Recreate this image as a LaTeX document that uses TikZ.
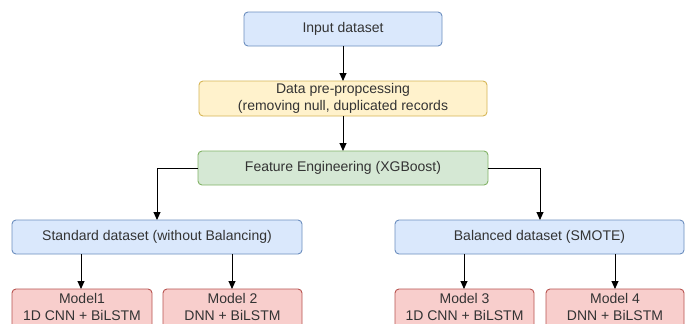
\documentclass[tikz,border=0pt]{standalone}
\usepackage{fontspec}
\setmainfont{Liberation Sans}
\usetikzlibrary{arrows.meta}
\definecolor{bfill}{HTML}{DAE8FC}\definecolor{bdraw}{HTML}{6C8EBF}
\definecolor{yfill}{HTML}{FFF2CC}\definecolor{ydraw}{HTML}{D6B656}
\definecolor{gfill}{HTML}{D5E8D4}\definecolor{gdraw}{HTML}{82B366}
\definecolor{rfill}{HTML}{F8CECC}\definecolor{rdraw}{HTML}{B85450}
\definecolor{txt}{HTML}{333333}
\begin{document}
\begin{tikzpicture}[x=1pt,y=-1pt,
  box/.style={rectangle, rounded corners=4pt, line width=0.9pt, inner sep=0pt, outer sep=0pt, align=center, font=\fontsize{14}{17.5}\selectfont, text=txt},
  bluebox/.style={box, fill=bfill, draw=bdraw},
  yellowbox/.style={box, fill=yfill, draw=ydraw},
  greenbox/.style={box, fill=gfill, draw=gdraw},
  redbox/.style={box, fill=rfill, draw=rdraw},
  arr/.style={-{Triangle[length=8pt,width=7pt]}, line width=0.9pt, black}]
\clip (0,0) rectangle (691,324);
\fill[white] (0,0) rectangle (691,324);
% boxes
\node[bluebox, minimum width=198pt, minimum height=34pt] (in) at (343,29) {Input dataset};
\node[yellowbox, minimum width=288pt, minimum height=35pt] (pre) at (343,98.5) {Data pre-propcessing\\(removing null, duplicated records};
\node[greenbox, minimum width=290pt, minimum height=34pt] (fe) at (343,168) {Feature Engineering (XGBoost)};
\node[bluebox, minimum width=290pt, minimum height=34pt] (sd) at (157,237) {Standard dataset (without Balancing)};
\node[bluebox, minimum width=289pt, minimum height=34pt] (bd) at (539.5,237) {Balanced dataset (SMOTE)};
% model boxes (cut by the lower edge)
\draw[redbox] (12,289) rectangle (152,340);
\draw[redbox] (163,289) rectangle (302,340);
\draw[redbox] (395,289) rectangle (534,340);
\draw[redbox] (546,289) rectangle (684,340);
\node[box] (m1) at (82,307) {Model1\\1D CNN + BiLSTM};
\node[box] (m2) at (232.5,307) {Model 2\\DNN + BiLSTM};
\node[box] (m3) at (464.5,307) {Model 3\\1D CNN + BiLSTM};
\node[box] (m4) at (615,307) {Model 4\\DNN + BiLSTM};
\coordinate (m1t) at (81,289);\coordinate (m2t) at (232,289);
\coordinate (m3t) at (464,289);\coordinate (m4t) at (615,289);
% connectors
\draw[arr] (in) -- (pre);
\draw[arr] (pre) -- (fe);
\draw[arr] (fe.west) -| (sd);
\draw[arr] (fe.east) -| ([xshift=0.5pt]bd.north);
\draw[arr] (sd.south -| m1t) -- (m1t);
\draw[arr] (sd.south -| m2t) -- (m2t);
\draw[arr] (bd.south -| m3t) -- (m3t);
\draw[arr] (bd.south -| m4t) -- (m4t);
\end{tikzpicture}
\end{document}
